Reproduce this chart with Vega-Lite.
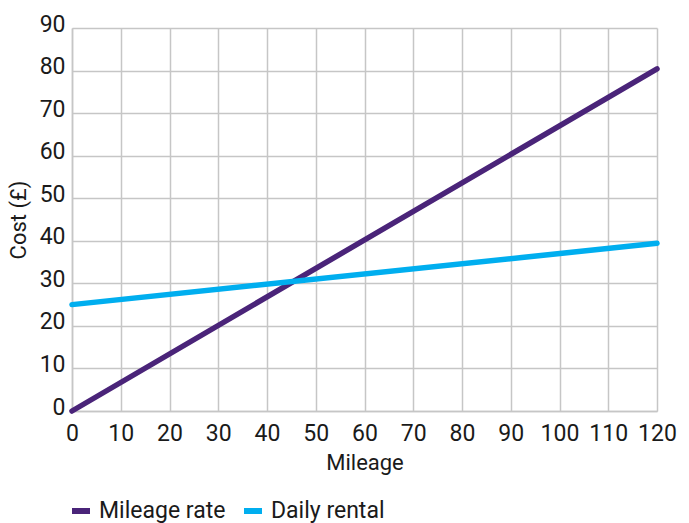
{
  "$schema": "https://vega.github.io/schema/vega-lite/v6.json",
  "width": 585,
  "height": 383,
  "autosize": {"type": "none"},
  "padding": {"left": 72, "top": 28, "right": 32, "bottom": 112},
  "background": "white",
  "config": {
    "font": "Roboto",
    "view": {"stroke": null},
    "axis": {
      "gridColor": "#c6c6c6",
      "gridWidth": 1.5,
      "domainColor": "#c6c6c6",
      "domainWidth": 1.5,
      "ticks": false,
      "labelFontSize": 23,
      "labelColor": "#1a1a1a",
      "titleFontSize": 22,
      "titleFontWeight": "normal",
      "titleColor": "#1a1a1a",
      "labelFont": "Roboto",
      "titleFont": "Roboto"
    }
  },
  "data": {
    "values": [
      {"mileage": 0, "cost": 0, "series": "Mileage rate"},
      {"mileage": 120, "cost": 80.4, "series": "Mileage rate"},
      {"mileage": 0, "cost": 25, "series": "Daily rental"},
      {"mileage": 120, "cost": 39.4, "series": "Daily rental"}
    ]
  },
  "mark": {"type": "line", "strokeWidth": 5.5, "strokeCap": "round"},
  "encoding": {
    "x": {
      "field": "mileage",
      "type": "quantitative",
      "title": "Mileage",
      "scale": {"domain": [0, 120], "nice": false},
      "axis": {"values": [0, 10, 20, 30, 40, 50, 60, 70, 80, 90, 100, 110, 120], "labelPadding": 11, "titlePadding": 7, "labelFlush": false}
    },
    "y": {
      "field": "cost",
      "type": "quantitative",
      "title": "Cost (£)",
      "scale": {"domain": [0, 90], "nice": false},
      "axis": {"values": [0, 10, 20, 30, 40, 50, 60, 70, 80, 90], "labelPadding": 7, "labelBaseline": "alphabetic", "labelOffset": 3, "titlePadding": 9, "labelFlush": false}
    },
    "color": {
      "field": "series",
      "type": "nominal",
      "scale": {"domain": ["Mileage rate", "Daily rental"], "range": ["#4a2479", "#00aeef"]},
      "legend": {
        "title": null,
        "orient": "none",
        "direction": "horizontal",
        "legendX": -3,
        "legendY": 471,
        "symbolType": "stroke",
        "symbolSize": 324,
        "symbolStrokeWidth": 6,
        "labelFontSize": 23,
        "labelColor": "#1a1a1a",
        "labelOffset": 6,
        "columnPadding": 6,
        "labelFont": "Roboto"
      }
    }
  }
}
